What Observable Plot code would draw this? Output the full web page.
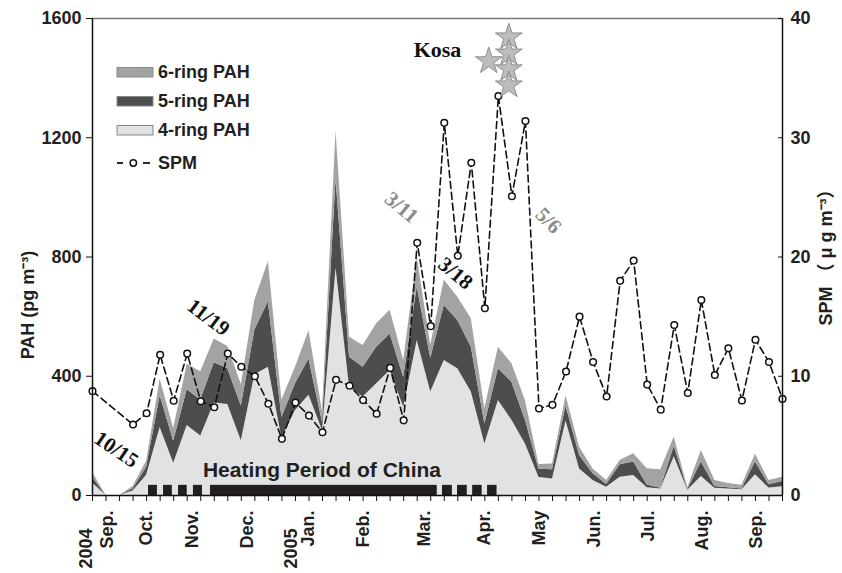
<!DOCTYPE html>
<html>
<head>
<meta charset="utf-8">
<script src="https://cdn.jsdelivr.net/npm/d3@7"></script>
<script src="https://cdn.jsdelivr.net/npm/@observablehq/plot@0.6"></script>
<style>
  html, body { margin: 0; padding: 0; background: #fff; }
  #wrap { position: relative; width: 842px; height: 573px; }
  #legend { position: absolute; left: 0; top: 0; pointer-events: none; }
</style>
</head>
<body>
<div id="wrap"></div>
<script>
// ---- data (weekly samples, index 0 = 2004-09-24 ... 51 = 2005-09-16) ----
const weeks = d3.range(52);
// PAH by ring group, pg m^-3 (per-group amounts, stacked 4 -> 5 -> 6)
const ring4 = [42,0,0,15,68,228,108,235,200,310,305,184,405,430,192,285,336,218,762,363,330,375,419,296,520,347,453,425,347,173,319,252,173,60,55,250,89,50,28,61,67,26,22,130,18,64,24,22,19,70,25,29];
const ring5 = [18,0,0,7,27,107,74,120,120,135,120,116,150,220,70,90,122,27,298,101,100,122,123,101,179,113,184,162,150,67,106,128,79,28,31,50,45,23,9,42,45,9,2,35,2,48,6,4,3,42,11,18];
const ring6 = [18,0,0,8,20,55,43,85,95,80,75,72,100,135,58,55,95,37,162,67,73,79,79,56,100,45,86,78,96,51,72,62,67,16,20,35,28,16,13,14,28,55,62,31,6,39,20,14,12,26,14,14];
// SPM, ug m^-3 (no samples in weeks 1-2)
const spm = [8.75,null,null,5.95,6.9,11.8,7.95,11.9,7.9,7.4,11.9,10.8,10.0,7.7,4.75,7.8,6.7,5.3,9.7,9.2,8.0,6.85,10.7,6.3,21.2,14.2,31.25,20.1,27.9,15.7,33.5,25.1,31.4,7.3,7.6,10.4,15.0,11.2,8.3,18.0,19.7,9.3,7.2,14.3,8.6,16.4,10.1,12.35,7.97,13.06,11.2,8.1];

const ringNames = ["4-ring PAH", "5-ring PAH", "6-ring PAH"];
const ringColors = ["#e1e2e4", "#4d4d4f", "#a3a3a6"];

// heating period of China (week index spans)
const heatStart = [4.14, 5.25, 6.36, 7.46, 8.72, 25.87, 26.98, 28.10, 29.20];
const heatEnd   = [4.80, 5.90, 7.00, 8.13, 25.48, 26.60, 27.70, 28.80, 29.90];

// axis tick labels
const pahTicks = [0, 400, 800, 1200, 1600];
const spmTicks = [0, 10, 20, 30, 40];
const monthLabels = ["Sep.","Oct.","Nov.","Dec.","Jan.","Feb.","Mar.","Apr.","May","Jun.","Jul.","Aug.","Sep."];
const monthPos = [1.1, 4.0, 7.4, 11.45, 15.93, 19.99, 24.54, 28.93, 33.04, 37.08, 41.05, 45.1, 49.07];
const yearLabels = ["2004", "2005"];
const yearPos = [-0.46, 14.7];

// annotations
const noteLabels = ["10/15", "11/19", "3/11", "3/18", "5/6"];
const noteWeek = [1.77, 8.57, 22.84, 26.83, 33.7];
const notePAH = [154, 597, 966, 745, 922];
const noteGray = [false, false, true, false, true];
const noteAngle = [34, 37, 40, 40, 45];
const kosaWeek = [29.29, 30.77, 30.77, 30.77, 30.77];
const kosaPAH = [1457, 1537, 1483, 1430, 1376];

// ---- build tables ----
const ringVals = [ring4, ring5, ring6];
const tidy = [];
ringNames.forEach((name, r) => weeks.forEach((w, k) => tidy.push({week: w, ring: name, value: ringVals[r][k]})));
const spmData = weeks.map((w, k) => ({week: w, spm: spm[k]})).filter(d => d.spm != null);
const heat = heatStart.map((s, k) => ({start: s, end: heatEnd[k]}));
const months = monthLabels.map((t, k) => ({label: t, pos: monthPos[k]}));
const years = yearLabels.map((t, k) => ({label: t, pos: yearPos[k]}));
const notes = noteLabels.map((t, k) => ({label: t, week: noteWeek[k], pah: notePAH[k], gray: noteGray[k], angle: noteAngle[k]}));
const kosa = kosaWeek.map((w, k) => ({week: w, pah: kosaPAH[k]}));

const SANS = '"Liberation Sans", Arial, Helvetica, sans-serif';
const SERIF = '"Liberation Serif", "Times New Roman", serif';
const INK = "#231f20";

const chart = Plot.plot({
  width: 842, height: 573,
  marginLeft: 92, marginRight: 60, marginTop: 18, marginBottom: 78,
  x: {domain: [0, 51]},
  y: {domain: [0, 1600]},
  color: {domain: ringNames, range: ringColors},
  style: {fontFamily: SANS, fontWeight: "bold", fontSize: "18px", color: INK, background: "white", overflow: "visible"},
  marks: [
    Plot.areaY(tidy, {x: "week", y: "value", fill: "ring"}),
    Plot.rect(heat, {x1: "start", x2: "end", y1: 0, y2: 34, fill: INK}),
    Plot.text(["Heating Period of China"], {x: 16.96, y: 84, text: d => d, fontSize: 21, fontFamily: SANS, fontWeight: "bold", fill: INK}),
    Plot.line(spmData, {x: "week", y: d => d.spm * 40, stroke: "#111", strokeWidth: 1.6, strokeDasharray: "7,4"}),
    Plot.dot(spmData, {x: "week", y: d => d.spm * 40, r: 3.3, fill: "white", stroke: "#111", strokeWidth: 1.5}),
    Plot.dot(kosa, {x: "week", y: "pah", symbol: "star", r: 8.4, fill: "#bcbcbe", stroke: "#8e8e90", strokeWidth: 1}),
    Plot.text(["Kosa"], {x: 25.5, y: 1493, text: d => d, fontFamily: SERIF, fontWeight: "bold", fontSize: 22, fill: "#111"}),
    Plot.text(notes.filter(d => !d.gray), {x: "week", y: "pah", text: "label", rotate: "angle", fontFamily: SERIF, fontWeight: "bold", fontSize: 21, fill: "#111"}),
    Plot.text(notes.filter(d => d.gray), {x: "week", y: "pah", text: "label", rotate: "angle", fontFamily: SERIF, fontWeight: "bold", fontSize: 21, fill: "#8a8a8c"}),
    Plot.ruleY([1600], {stroke: "#7a7a7a", strokeWidth: 1.5}),
    Plot.ruleY([0], {stroke: "#111", strokeWidth: 1.5}),
    Plot.ruleX([0], {stroke: "#111", strokeWidth: 1.5}),
    Plot.ruleX([51], {stroke: "#111", strokeWidth: 1.5}),
    Plot.axisY({anchor: "left", ticks: pahTicks, tickFormat: d => String(d), tickSize: 6, tickPadding: 5, label: null, fontSize: 18, stroke: "#111"}),
    Plot.axisY({anchor: "right", ticks: spmTicks.map(v => v * 40), tickFormat: d => String(d / 40), tickSize: -5, tickPadding: 13, label: null, fontSize: 18, textAnchor: "start", stroke: "#111"}),
    Plot.axisX({ticks: weeks, tickSize: 6, tickFormat: () => "", label: null, stroke: "#111"}),
    Plot.text(months, {x: "pos", text: "label", frameAnchor: "bottom", rotate: -90, textAnchor: "end", lineAnchor: "middle", dy: 15, fontSize: 18, fill: INK}),
    Plot.text(years, {x: "pos", text: "label", frameAnchor: "bottom", rotate: -90, textAnchor: "end", lineAnchor: "middle", dy: 33, fontSize: 18, fill: INK}),
    Plot.text(["PAH (pg m\u207B\u00B3)"], {frameAnchor: "left", text: d => d, rotate: -90, textAnchor: "middle", lineAnchor: "middle", dx: -64, dy: 48, fontSize: 18, fill: INK}),
    Plot.text(["SPM \uFF08 \u03BC g m\u207B\u00B3\uFF09"], {frameAnchor: "right", text: d => d, rotate: -90, textAnchor: "middle", lineAnchor: "middle", dx: 44, dy: -4, fontSize: 18, fill: INK, fontFamily: SANS + ', "Noto Sans CJK JP"'})
  ]
});

const wrap = document.getElementById("wrap");
wrap.appendChild(chart);

// ---- legend (overlay, top-left inside the frame) ----
const legendItems = [
  {label: "6-ring PAH", color: ringColors[2]},
  {label: "5-ring PAH", color: ringColors[1]},
  {label: "4-ring PAH", color: ringColors[0]},
  {label: "SPM", color: null}
];
const ns = "http://www.w3.org/2000/svg";
const lg = document.createElementNS(ns, "svg");
lg.setAttribute("id", "legend");
lg.setAttribute("width", 842);
lg.setAttribute("height", 573);
const rowY = [72, 101, 130, 163];
legendItems.forEach((it, k) => {
  const cy = rowY[k];
  if (it.color) {
    const r = document.createElementNS(ns, "rect");
    r.setAttribute("x", 117); r.setAttribute("y", cy - 4.5);
    r.setAttribute("width", 36); r.setAttribute("height", 9.5);
    r.setAttribute("fill", it.color); r.setAttribute("stroke", "#8a8a8a"); r.setAttribute("stroke-width", 1);
    lg.appendChild(r);
  } else {
    const l1 = document.createElementNS(ns, "line");
    l1.setAttribute("x1", 117); l1.setAttribute("x2", 123); l1.setAttribute("y1", cy); l1.setAttribute("y2", cy);
    l1.setAttribute("stroke", "#111"); l1.setAttribute("stroke-width", 1.8);
    lg.appendChild(l1);
    const l2 = document.createElementNS(ns, "line");
    l2.setAttribute("x1", 143); l2.setAttribute("x2", 150); l2.setAttribute("y1", cy); l2.setAttribute("y2", cy);
    l2.setAttribute("stroke", "#111"); l2.setAttribute("stroke-width", 1.8);
    lg.appendChild(l2);
    const c = document.createElementNS(ns, "circle");
    c.setAttribute("cx", 133.3); c.setAttribute("cy", cy); c.setAttribute("r", 3.2);
    c.setAttribute("fill", "white"); c.setAttribute("stroke", "#111"); c.setAttribute("stroke-width", 1.5);
    lg.appendChild(c);
  }
  const t = document.createElementNS(ns, "text");
  t.setAttribute("x", 158); t.setAttribute("y", cy);
  t.setAttribute("dy", "0.36em");
  t.setAttribute("font-family", SANS); t.setAttribute("font-weight", "bold"); t.setAttribute("font-size", 18);
  t.setAttribute("fill", INK);
  t.textContent = it.label;
  lg.appendChild(t);
});
wrap.appendChild(lg);
</script>
</body>
</html>
